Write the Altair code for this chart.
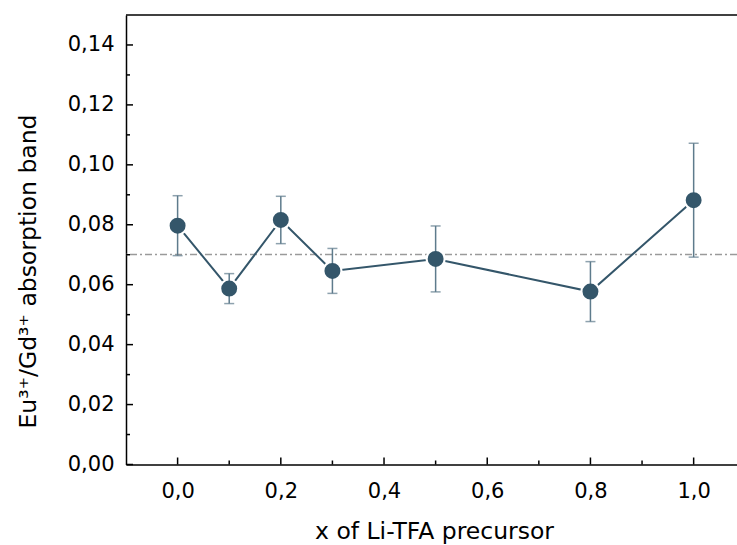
import altair as alt
import pandas as pd

# data
x_vals = [0.0, 0.1, 0.2, 0.3, 0.5, 0.8, 1.0]
y_vals = [0.0797, 0.0587, 0.0816, 0.0646, 0.0686, 0.0577, 0.0882]
y_err = [0.0100, 0.0050, 0.0079, 0.0075, 0.0110, 0.0100, 0.0190]
ref_level = [0.0701]

x_major = [0.0, 0.2, 0.4, 0.6, 0.8, 1.0]
x_minor = [0.1, 0.3, 0.5, 0.7, 0.9]
y_major = [0.0, 0.02, 0.04, 0.06, 0.08, 0.10, 0.12, 0.14]
y_minor = [0.01, 0.03, 0.05, 0.07, 0.09, 0.11, 0.13]

W = 611
H = 449.5
FONT = "DejaVu Sans"
MARK = "#34566A"
ERR = "#5E7B8C"

df = pd.DataFrame({
    "x": x_vals,
    "y": y_vals,
    "lo": [v - e for v, e in zip(y_vals, y_err)],
    "hi": [v + e for v, e in zip(y_vals, y_err)],
})

xs = alt.Scale(domain=[-0.1, 1.084], nice=False, zero=False)
ys = alt.Scale(domain=[0, 0.15], nice=False)

x_axis = alt.Axis(
    values=x_major, ticks=False, grid=False,
    labelExpr="replace(format(datum.value, '.1f'), '.', ',')",
    title="x of Li-TFA precursor",
    titleX=308, titleY=73.5, titleBaseline="alphabetic",
)
y_axis = alt.Axis(
    values=y_major, ticks=False, grid=False,
    labelExpr="replace(format(datum.value, '.2f'), '.', ',')",
    title="Eu³⁺/Gd³⁺ absorption band",
    titleX=-91, titleY=256, titleBaseline="alphabetic", titleAngle=270,
)

base = alt.Chart(df)

line = base.mark_line(color=MARK, strokeWidth=2).encode(
    x=alt.X("x:Q", scale=xs, axis=x_axis),
    y=alt.Y("y:Q", scale=ys, axis=y_axis),
)

halo = base.mark_circle(color="white", opacity=1, size=410).encode(
    x=alt.X("x:Q", scale=xs), y=alt.Y("y:Q", scale=ys)
)

stems = base.mark_rule(color=ERR, strokeWidth=1.5).encode(
    x=alt.X("x:Q", scale=xs), y=alt.Y("lo:Q", scale=ys), y2="hi:Q"
)
cap_lo = base.mark_tick(color=ERR, orient="horizontal", size=10, thickness=1.5).encode(
    x=alt.X("x:Q", scale=xs), y=alt.Y("lo:Q", scale=ys)
)
cap_hi = base.mark_tick(color=ERR, orient="horizontal", size=10, thickness=1.5).encode(
    x=alt.X("x:Q", scale=xs), y=alt.Y("hi:Q", scale=ys)
)

dots = base.mark_circle(color=MARK, opacity=1, size=254).encode(
    x=alt.X("x:Q", scale=xs), y=alt.Y("y:Q", scale=ys)
)

ref = alt.Chart(pd.DataFrame({"r": ref_level})).mark_rule(
    color="#9A9A9A", strokeWidth=1.5, strokeDash=[7, 3, 2, 3]
).encode(y=alt.Y("r:Q", scale=ys))

top_line = alt.Chart(pd.DataFrame({"t": [0.15]})).mark_rule(
    color="black", strokeWidth=1.5
).encode(y=alt.Y("t:Q", scale=ys))

ytm = alt.Chart(pd.DataFrame({"v": y_major})).mark_rule(color="black", strokeWidth=1.5).encode(
    y=alt.Y("v:Q", scale=ys), x=alt.value(0), x2=alt.value(7)
)
ytn = alt.Chart(pd.DataFrame({"v": y_minor})).mark_rule(color="black", strokeWidth=1.5).encode(
    y=alt.Y("v:Q", scale=ys), x=alt.value(0), x2=alt.value(4)
)
xtm = alt.Chart(pd.DataFrame({"v": x_major})).mark_rule(color="black", strokeWidth=1.5).encode(
    x=alt.X("v:Q", scale=xs), y=alt.value(H), y2=alt.value(H - 7)
)
xtn = alt.Chart(pd.DataFrame({"v": x_minor})).mark_rule(color="black", strokeWidth=1.5).encode(
    x=alt.X("v:Q", scale=xs), y=alt.value(H), y2=alt.value(H - 4)
)

chart = alt.layer(
    ref, line, halo, stems, cap_lo, cap_hi, dots, top_line, ytm, ytn, xtm, xtn
).properties(
    width=W, height=H,
    autosize=alt.AutoSizeParams(type="none"),
    padding={"left": 126, "top": 15, "right": 0, "bottom": 80},
    background="white",
).configure_view(stroke=None).configure_axis(
    domainColor="black", domainWidth=1.5,
    labelFont=FONT, labelFontSize=21, labelColor="black",
    titleFont=FONT, titleFontSize=23.5, titleColor="black", titleFontWeight="normal",
).configure_axisX(labelPadding=16).configure_axisY(labelPadding=12)

chart.save("out.html", embed_options={"renderer": "svg", "actions": False})
